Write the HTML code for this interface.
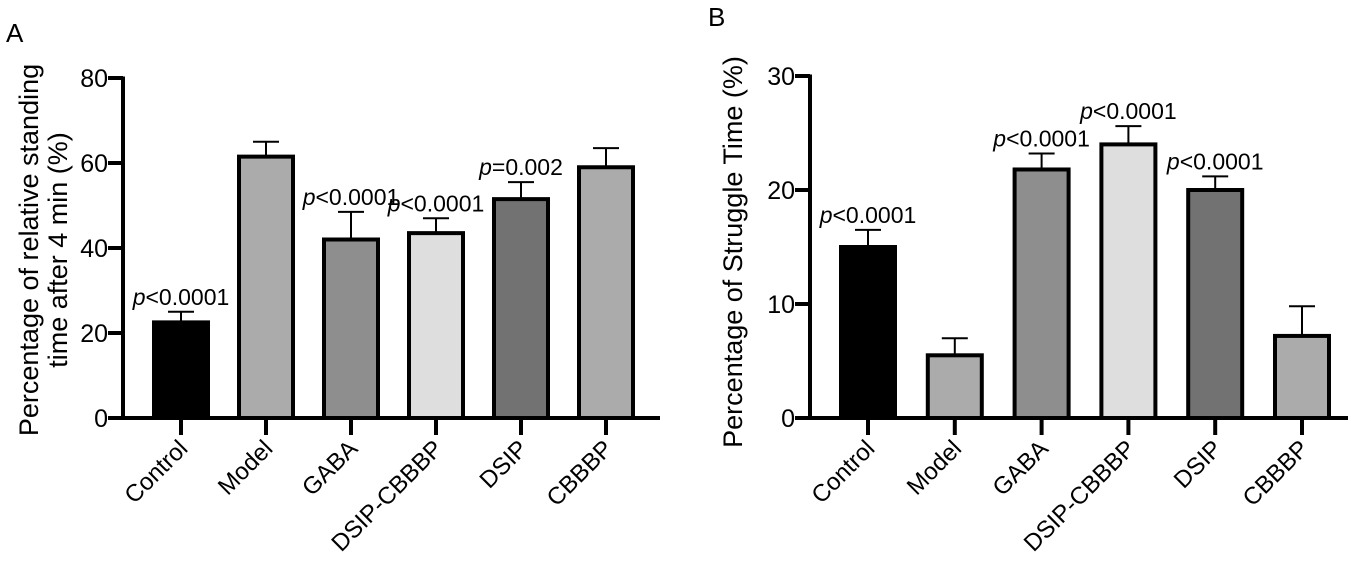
<!DOCTYPE html>
<html><head><meta charset="utf-8"><style>
body{margin:0;background:#fff;}
svg{display:block;font-family:"Liberation Sans",Arial,sans-serif;}
</style></head><body>
<svg id="chart" width="1350" height="564" viewBox="0 0 1350 564">
<text x="6" y="42" font-size="26">A</text>
<text x="708" y="26" font-size="26">B</text>
<g id="pa"></g>
<g id="pb"></g>
</svg>
<script>
const categories = ["Control","Model","GABA","DSIP-CBBBP","DSIP","CBBBP"];
const colorsFill = ["#000000","#ababab","#8e8e8e","#dedede","#727272","#ababab"];
const valuesA = [22.5, 61.5, 42, 43.5, 51.5, 59];
const errorsA = [2.5, 3.5, 6.5, 3.5, 4, 4.5];
const pLabelsA = ["<0.0001", null, "<0.0001", "<0.0001", "=0.002", null];
const ticksA = [0, 20, 40, 60, 80];
const valuesB = [15, 5.5, 21.8, 24, 20, 7.2];
const errorsB = [1.5, 1.5, 1.4, 1.6, 1.2, 2.6];
const pLabelsB = ["<0.0001", null, "<0.0001", "<0.0001", "<0.0001", null];
const ticksB = [0, 10, 20, 30];

const NS = "http://www.w3.org/2000/svg";
function mk(parent, tag, attrs, text){
  const e = document.createElementNS(NS, tag);
  for (const k in attrs) e.setAttribute(k, attrs[k]);
  if (text !== undefined) e.textContent = text;
  parent.appendChild(e);
  return e;
}

function panel(g, cfg){
  const y = v => cfg.y0 - (v / cfg.max) * (cfg.y0 - cfg.yTop);
  const x = i => cfg.x0 + i * cfg.step;
  const ya = mk(g, "line", {x1:cfg.ax, y1:y(cfg.max)-1.5, x2:cfg.ax, y2:cfg.y0+1.5, stroke:"#000","stroke-width":4});
  
  
  const xa = mk(g, "line", {x1:cfg.ax-15, y1:cfg.y0, x2:cfg.axEnd, y2:cfg.y0, stroke:"#000","stroke-width":4});
  
  
  cfg.ticks.forEach(t => {
    const tl = mk(g, "line", {x1:cfg.ax-15, y1:y(t), x2:cfg.ax, y2:y(t), stroke:"#000","stroke-width":4});
    
    
    const tx = mk(g, "text", {x:cfg.ax-15, y:y(t)+9, "font-size":25, "text-anchor":"end"}, String(t));
    
    
  });
  cfg.values.forEach((v, i) => {
    const cx = x(i), w = cfg.bw;
    const et = y(v + cfg.errs[i]);
    const el = mk(g, "line", {x1:cx, y1:et, x2:cx, y2:y(v), stroke:"#000","stroke-width":2});
    
    
    const ec = mk(g, "line", {x1:cx-13, y1:et, x2:cx+13, y2:et, stroke:"#000","stroke-width":2});
    
    
    const b = mk(g, "rect", {x:cx-w/2, y:y(v), width:w, height:cfg.y0 - y(v), fill:colorsFill[i], stroke:"#000","stroke-width":4});
    
    
    const tk = mk(g, "line", {x1:cx, y1:cfg.y0, x2:cx, y2:cfg.y0+17, stroke:"#000","stroke-width":4});
    
    
    const lx = cx + 8, ly = cfg.y0 + 32;
    const lab = mk(g, "text", {x:lx, y:ly, "font-size":24, "text-anchor":"end", transform:"rotate(-45 "+lx+" "+ly+")"}, categories[i]);
    
    
    if (cfg.pl[i]) {
      const pt = mk(g, "text", {x:cx, y:et - 7, "font-size":23, "text-anchor":"middle"});
      
      
      const ps = mk(pt, "tspan", {"font-style":"italic"}, "p");
      
      
      const vs = mk(pt, "tspan", {}, cfg.pl[i]);
      
      
    }
  });
}

panel(document.getElementById("pa"), {ax:123, axEnd:660, y0:418, yTop:78, max:80, x0:181, step:85, bw:54, values:valuesA, errs:errorsA, pl:pLabelsA, ticks:ticksA});
panel(document.getElementById("pb"), {ax:810, axEnd:1348, y0:418, yTop:76, max:30, x0:868, step:86.8, bw:54, values:valuesB, errs:errorsB, pl:pLabelsB, ticks:ticksB});

const svg = document.getElementById("chart");
const ta = mk(svg, "text", {x:0, y:0, "font-size":27, "text-anchor":"middle", transform:"translate(38 250) rotate(-90)"}, "Percentage of relative standing");


const ta2 = mk(svg, "text", {x:0, y:0, "font-size":27, "text-anchor":"middle", transform:"translate(67 250) rotate(-90)"}, "time after 4 min (%)");


const tb = mk(svg, "text", {x:0, y:0, "font-size":27, "text-anchor":"middle", transform:"translate(742 252) rotate(-90)"}, "Percentage of Struggle Time (%)");


</script>
</body></html>
